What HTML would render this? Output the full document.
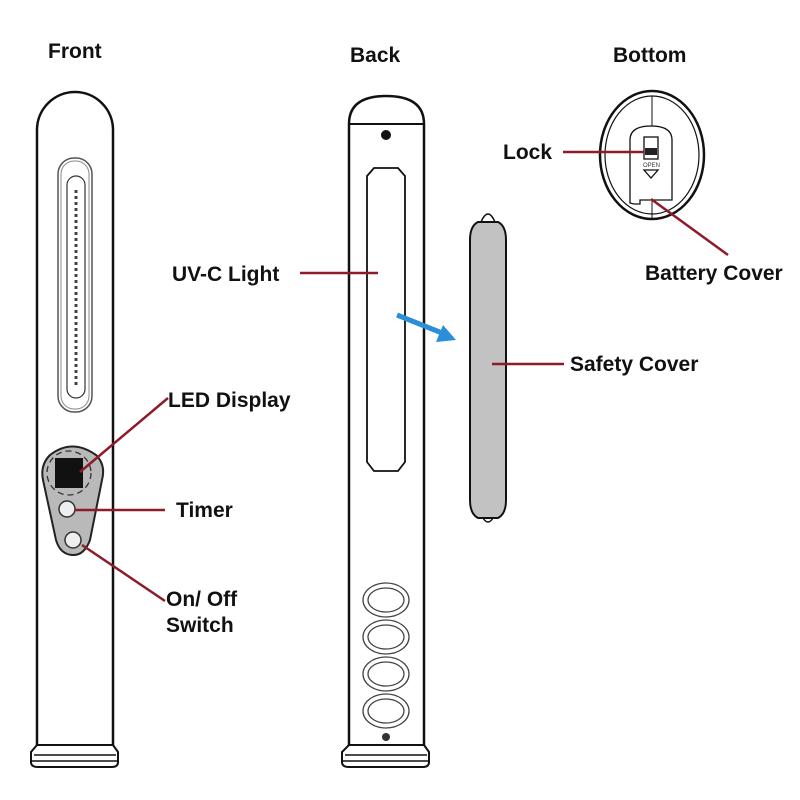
<!DOCTYPE html>
<html><head><meta charset="utf-8"><style>
html,body{margin:0;padding:0;background:#fff;}
svg{display:block;}
text{font-family:"Liberation Sans",Arial,sans-serif;font-size:21px;font-weight:bold;fill:#111;}
</style></head><body>
<svg width="800" height="800" viewBox="0 0 800 800" xmlns="http://www.w3.org/2000/svg">
<g fill="none" stroke="#111" stroke-width="2.5">
<path d="M37,745 V130 A38,38 0 0 1 113,130 V745"/>
<path d="M37,745 H113 L118,752 V762 Q118,767 112,767 H38 Q31,767 31,762 V752 Z" stroke-width="2"/>
<line x1="34" y1="755" x2="116" y2="755" stroke-width="1.5"/>
<line x1="32" y1="761" x2="118" y2="761" stroke-width="1.5"/>
<rect x="58" y="158" width="34" height="254" rx="16" stroke-width="1.5" stroke="#555"/>
<rect x="61" y="161" width="28" height="248" rx="13" stroke-width="1" stroke="#888"/>
<rect x="67" y="176" width="18" height="222" rx="9" stroke-width="1.2" stroke="#333"/>
<line x1="76" y1="190" x2="76" y2="385" stroke="#444" stroke-width="3" stroke-dasharray="3 3"/>
</g>
<path d="M50,455 Q72,438 96,455 Q106,465 102,480 L90,540 Q84,556 72,555 Q60,554 56,540 L43,480 Q40,465 50,455 Z" fill="#b9b9b9" stroke="#222" stroke-width="2"/>
<rect x="55" y="458" width="28" height="30" fill="#111"/>
<circle cx="69" cy="473" r="22" fill="none" stroke="#333" stroke-width="1.3" stroke-dasharray="6 4"/>
<circle cx="67" cy="509" r="8" fill="#eee" stroke="#333" stroke-width="1.5"/>
<circle cx="73" cy="540" r="8" fill="#eee" stroke="#333" stroke-width="1.5"/>
<g fill="none" stroke="#111" stroke-width="2.5">
<path d="M349,745 V124 Q349,96 386,96 Q424,96 424,124 V745"/>
<line x1="349" y1="124" x2="424" y2="124" stroke-width="2"/>
<path d="M349,745 H424 L429,752 V762 Q429,767 423,767 H349 Q342,767 342,762 V752 Z" stroke-width="2"/>
<line x1="345" y1="755" x2="427" y2="755" stroke-width="1.5"/>
<line x1="343" y1="761" x2="429" y2="761" stroke-width="1.5"/>
<path d="M374,168 H398 L405,176 V462 L398,471 H374 L367,462 V176 Z" stroke-width="1.8"/>
<g stroke-width="1.3" stroke="#444">
<ellipse cx="386" cy="600" rx="23" ry="17"/><ellipse cx="386" cy="600" rx="18" ry="12"/>
<ellipse cx="386" cy="637" rx="23" ry="17"/><ellipse cx="386" cy="637" rx="18" ry="12"/>
<ellipse cx="386" cy="674" rx="23" ry="17"/><ellipse cx="386" cy="674" rx="18" ry="12"/>
<ellipse cx="386" cy="711" rx="23" ry="17"/><ellipse cx="386" cy="711" rx="18" ry="12"/>
</g>
</g>
<circle cx="386" cy="135" r="5" fill="#111"/>
<circle cx="386" cy="737" r="4" fill="#333"/>
<line x1="397" y1="315" x2="442" y2="333" stroke="#2a8fd6" stroke-width="5"/>
<polygon points="456,340 436,342 443,325" fill="#2a8fd6"/>
<path d="M481,222 Q488,206 495,222 Z" fill="#fff" stroke="#111" stroke-width="1.5"/>
<path d="M481,514 Q488,530 495,514 Z" fill="#fff" stroke="#111" stroke-width="1.5"/>
<path d="M478,222 H498 Q506,226 506,240 V500 Q506,514 498,518 H478 Q470,514 470,500 V240 Q470,226 478,222 Z" fill="#c2c2c2" stroke="#111" stroke-width="2"/>
<g fill="none" stroke="#111">
<ellipse cx="652" cy="155" rx="52" ry="64" stroke-width="2.5"/>
<ellipse cx="652" cy="155" rx="47" ry="59" stroke-width="1.2"/>
<line x1="652" y1="96" x2="652" y2="126" stroke-width="1"/>
<line x1="652" y1="200" x2="652" y2="219" stroke-width="1"/>
<path d="M630,203 V140 Q630,126 651,126 Q672,126 672,140 V200 H640 V204 H634 Z" stroke-width="1.3"/>
<rect x="644" y="137" width="14" height="22" stroke-width="1.3"/>
<path d="M644,170 H658 L651,178 Z" stroke-width="1.3"/>
</g>
<rect x="645" y="148" width="12" height="7" fill="#222"/>
<text x="643" y="167" style="font-size:6px;fill:#333;font-weight:normal">OPEN</text>
<g stroke="#8e1b2b" stroke-width="2.5" fill="none">
<line x1="80" y1="472" x2="168" y2="398"/>
<line x1="75" y1="510" x2="165" y2="510"/>
<line x1="82" y1="545" x2="165" y2="601"/>
<line x1="300" y1="273" x2="378" y2="273"/>
<line x1="492" y1="364" x2="564" y2="364"/>
<line x1="563" y1="152" x2="644" y2="152"/>
<line x1="651" y1="199" x2="728" y2="255"/>
</g>
<text x="48" y="58">Front</text>
<text x="350" y="62">Back</text>
<text x="613" y="62">Bottom</text>
<text x="168" y="407">LED Display</text>
<text x="176" y="517">Timer</text>
<text x="166" y="606">On/ Off</text>
<text x="166" y="632">Switch</text>
<text x="172" y="281">UV-C Light</text>
<text x="570" y="371">Safety Cover</text>
<text x="503" y="159">Lock</text>
<text x="645" y="280">Battery Cover</text>
</svg>
</body></html>
